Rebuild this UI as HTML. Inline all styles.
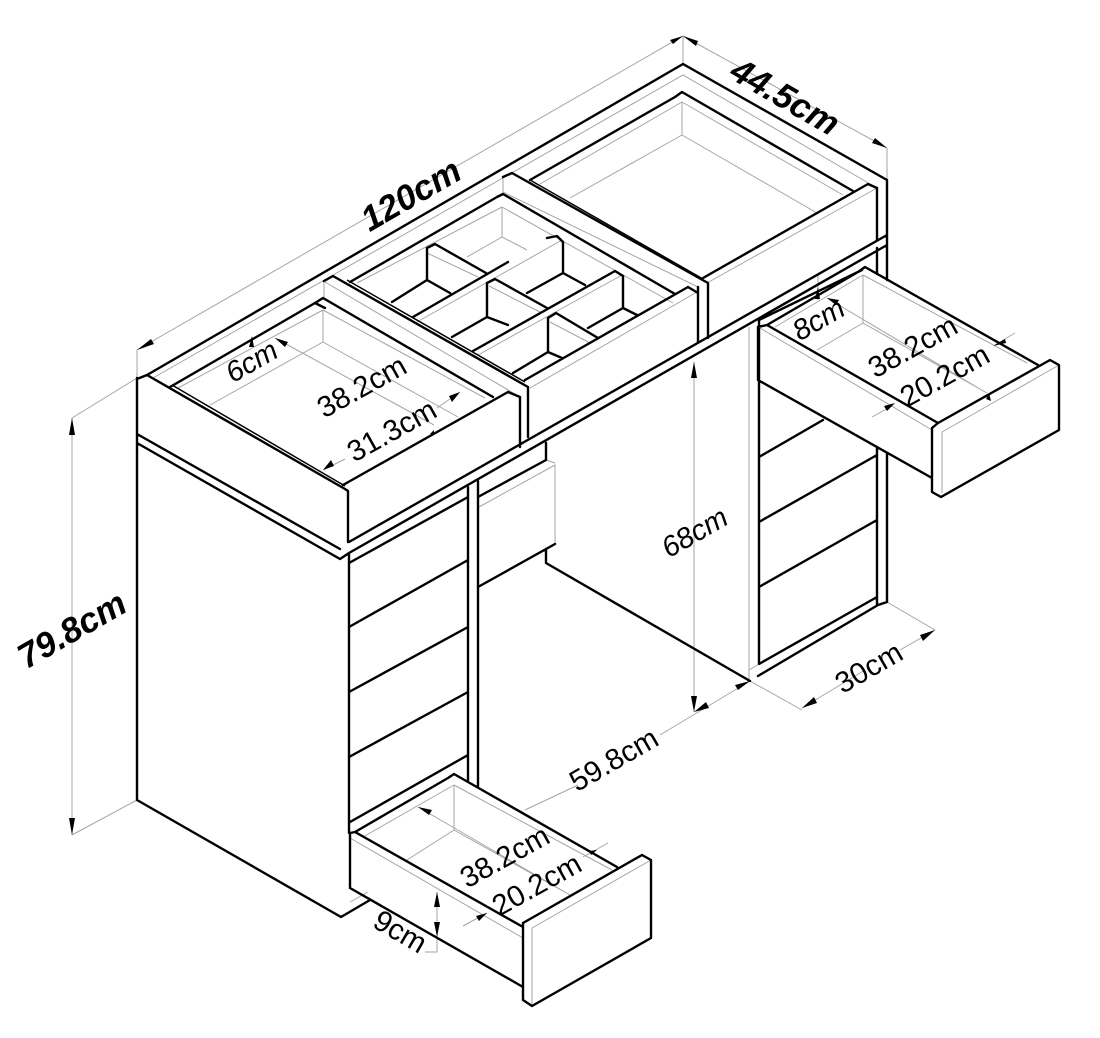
<!DOCTYPE html>
<html><head><meta charset="utf-8"><style>
html,body{margin:0;padding:0;background:#fff}
svg{display:block}
.k{stroke:#000;stroke-width:2.4;fill:none;stroke-linejoin:round;stroke-linecap:round}
.t{stroke:#000;stroke-width:1.5;fill:none}
.g{stroke:#a5a5a5;stroke-width:1;fill:none}
text{font-family:"Liberation Sans",sans-serif;fill:#000;text-anchor:middle;dominant-baseline:central}
.b{font-weight:bold;font-style:italic;font-size:35px}
.r{font-size:29.5px}
.i{font-style:italic;font-size:29px}
</style></head><body>
<svg width="1100" height="1038" viewBox="0 0 1100 1038" xmlns="http://www.w3.org/2000/svg">
<!-- grey construction -->
<path class="g" d="M137 350L683 36L887 148M137 350V378M683 36V64M887 148V180M137 378L72 418M137 800L72 835M72 418V835
M153 378L683 75L877 188M324 281V300M325 282L520 397M503 177V192L698 287
M323 310V342L210 405M323 342L458 417M323 310L485 398M178 388L323 310M275 338L434 425M323 470L345 459M437 408L460 392
M502 207V237L467 257M502 237L527 250M502 207L673 303M357 283L502 207M697 292L530 388
M427 253L478 277M417 322L562 240M478 355L622 275M489 286L540 312M550 322L590 343
M682 102V135L570 198M682 135L817 213M682 102L540 184M682 102L843 195M707 283L877 188
M749 327V681M759 664L749 670
M863 275V323L817 350M863 323L987 393M827 298L985 392M863 275L1027 363M775 327L863 275M760 328L932 430M942 432L1059 365M942 432V493M818 273V300M1015 333L995 345M872 417L890 407
M454 785V830L407 860M454 830L570 895M418 807L570 895M454 785L612 870M363 837L454 785M350 838L523 938M532 928L651 860M532 928V1006M608 843L583 857M463 926L487 913
M350 902L368 892M694 362V712M525 810L578 785M660 735L750 681M750 681L802 710M887 602L935 630M802 708L865 670M900 650L935 630
M479 507L555 465V544M546 460L555 463M437 892V952H425"/>
<!-- main solid -->
<path class="k" d="M137 379L147 375L683 64L887 180M137 378V800L341 917L370 900M147 375L345 489L348 491V542M137 434L340 549M137 443L340 559L349 553L887 245M349 542L887 235
M349 553V833M468 487V782M478 481V786M349 627L468 560M349 692L468 627M349 757L468 692M350 822L468 755M349 563L468 497M478 497L546 460V443M478 587L555 544M546 549V563L750 681
M759 320V664L877 597M758 676L878 605L887 602M759 457L823 420M759 522L877 455M759 587L877 520M877 248V274M877 447V605M887 180V280M887 453V602M877 188V240M759 320L862 270
M170 387L315 303L323 298L493 397M520 397V447M528 387V437M508 392L343 485M508 392L520 397
M324 281L333 276L528 387M315 303L325 308
M350 282L497 197L503 194L675 294M503 177L512 173L708 283V338M698 287V342M688 287L698 293M688 287L525 380
M530 180L675 97L682 92L853 191M703 278L868 184L877 188
M427 248L435 244L486 273M427 248V280L392 302M427 280L450 293M413 317L508 262M547 238L557 236L563 242V273L527 293M563 273L585 285
M473 351L615 271L623 276V308L588 328M623 308L637 315M487 283L495 279L547 308M487 283V317M548 318L556 313L598 338M548 318V352L513 373M548 352L562 358M487 317L452 337M487 317L508 325
M758 327L767 325L858 272L865 267L1038 365M767 325L938 423M758 380L932 478M758 327V380M932 428L938 423L1050 360L1059 365V430L941 497L932 492V428
M350 833L355 832L448 778L454 774L617 867M355 832L523 927M350 888L523 987M350 833V888M523 923L642 855L651 860V938L532 1006L523 1000V923"/>
<path class="t" d="M172 385L345 486M347 280L525 382M530 180L703 279"/>
<!-- arrowheads -->
<path fill="#000" d="M72 418l-3 17h6zM72 835l-3 -17h6zM137 350l14 -11l3 5zM683 36l-13 4l3 4zM683 36l13 10l2 -5zM887 148l-12 -10l-3 5z
M694 362l-3 16h6zM694 712l-3 -16h6zM802 708l15 -5l-3 -6zM935 630l-15 5l3 6zM750 681l-15 4l3 5zM694 712l15 -4l-3 -6z
M275 338l13 4l-3 5zM252 336l-3 11h5zM460 392l-11 4l3 6zM323 470l11 -4l-3 -6zM434 430l-4 4l4 1z
M818 287l-3 12h5zM827 298l12 2l-3 5zM993 346l12 -7l1 4zM895 403l-11 3l3 5zM989 393l-3 6l5 2z
M418 807l14 3l-3 5zM437 892l-3 15h6zM437 937l-3 -15h6zM597 850l-8 1l2 4zM487 913l-11 3l3 5z"/>
<!-- labels -->
<text class="b" transform="translate(411 195) rotate(-30)">120cm</text>
<text class="b" transform="translate(785 97) rotate(30)">44.5cm</text>
<text class="b" transform="translate(72 630) rotate(-30)">79.8cm</text>
<text class="r" transform="translate(362 387) rotate(-29)">38.2cm</text>
<text class="r" transform="translate(392 431) rotate(-29)">31.3cm</text>
<text class="i" transform="translate(252 362) rotate(-30)">6cm</text>
<text class="i" transform="translate(819 320) rotate(-30)">8cm</text>
<text class="r" transform="translate(913 347) rotate(-29)">38.2cm</text>
<text class="r" transform="translate(945 376) rotate(-29)">20.2cm</text>
<text class="r" transform="translate(505 857) rotate(-29)">38.2cm</text>
<text class="r" transform="translate(537 885) rotate(-29)">20.2cm</text>
<text class="r" transform="translate(400 932) rotate(30)">9cm</text>
<text class="r" transform="translate(614 760) rotate(-30)">59.8cm</text>
<text class="r" transform="translate(869 668) rotate(-30)">30cm</text>
<text class="i" transform="translate(695 533) rotate(-30)">68cm</text>
</svg>
</body></html>
